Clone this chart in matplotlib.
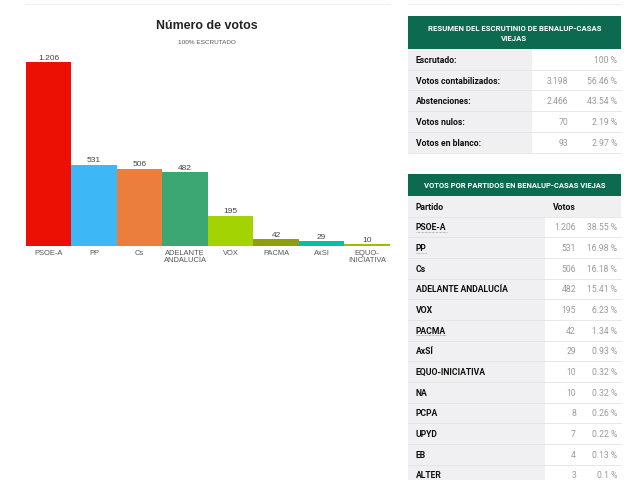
import matplotlib
matplotlib.use("Agg")
import matplotlib.pyplot as plt
from matplotlib.patches import Rectangle

# Data
parties = ["PSOE-A", "PP", "Cs", "ADELANTE ANDALUCÍA", "VOX", "PACMA", "AxSÍ",
           "EQUO-INICIATIVA", "NA", "PCPA", "UPYD", "EB", "ALTER"]
votes = [1206, 531, 506, 482, 195, 42, 29, 10, 10, 8, 7, 4, 3]
vote_pcts = ["38.55 %", "16.98 %", "16.18 %", "15.41 %", "6.23 %", "1.34 %", "0.93 %",
             "0.32 %", "0.32 %", "0.26 %", "0.22 %", "0.13 %", "0.1 %"]

chart_labels = ["PSOE-A", "PP", "Cs", "ADELANTE\nANDALUCÍA", "VOX", "PACMA", "AxSI",
                "EQUO-\nINICIATIVA"]
chart_votes = votes[:8]
bar_colors = ["#ec0f04", "#3db7f6", "#ec7e3d", "#3ba873", "#a3d303", "#8f9e0b",
              "#03bfa3", "#a8b800"]

summary_labels = ["Escrutado:", "Votos contabilizados:", "Abstenciones:", "Votos nulos:",
                  "Votos en blanco:"]
summary_counts = ["", "3.198", "2.466", "70", "93"]
summary_pcts = ["100 %", "56.46 %", "43.54 %", "2.19 %", "2.97 %"]

underlined = ["PSOE-A", "PP", "PACMA"]

W, H = 640, 481
fig = plt.figure(figsize=(W / 100, H / 100), dpi=100)
fig.patch.set_facecolor("white")

# page axes in pixel coordinates (y down) for text and tables
page = fig.add_axes([0, 0, 1, 1])
page.set_xlim(0, W)
page.set_ylim(H, 0)
page.axis("off")

green = "#0b6a4f"
gray_bg = "#f0f0f2"
num_col = "#9a9a9a"
tfont = "Roboto"
fs = 6.2


def fmt(v):
    return f"{v:,}".replace(",", ".")


# ---- bar chart ----
page.plot([25, 390], [5, 5], color="#eeeeee", lw=0.8)
page.text(207, 26, "Número de votos", ha="center", va="center", fontsize=8.9,
          fontweight="bold", family="Liberation Sans", color="#222222")
page.text(207, 43, "100% ESCRUTADO", ha="center", va="center", fontsize=4.6,
          family="Liberation Sans", color="#555555")

x0, x1, base, top = 25.7, 390, 246.7, 50
ax = fig.add_axes([x0 / W, (H - base) / H, (x1 - x0) / W, (base - top) / H])
pos = range(len(chart_votes))
ax.bar(pos, chart_votes, width=1.0, color=bar_colors, align="center")
ax.set_xlim(-0.5, len(chart_votes) - 0.5)
ax.set_ylim(0, chart_votes[0] * (base - top) / (base - 63.3))
for i, v in enumerate(chart_votes):
    ax.annotate(fmt(v), (i, v), xytext=(0, 1.2), textcoords="offset points",
                ha="center", va="bottom", fontsize=6, family="Liberation Sans",
                color="#444444")
ax.set_xticks(list(pos))
ax.set_xticklabels(chart_labels, fontsize=5.4, family="Liberation Sans",
                   color="#555555", linespacing=0.9)
ax.tick_params(axis="x", length=0, pad=2.5)
ax.set_yticks([])
for s in ax.spines.values():
    s.set_visible(False)
ax.patch.set_alpha(0)

# ---- summary table ----
tx0, tx1 = 408, 621
page.plot([tx0, tx1], [5, 5], color="#eeeeee", lw=0.8)
page.add_patch(Rectangle((tx0, 17), tx1 - tx0, 33, color=green, lw=0))
page.text((tx0 + tx1) / 2, 33.5, "RESUMEN DEL ESCRUTINIO DE BENALUP-CASAS\nVIEJAS",
          ha="center", va="center", fontsize=5.6, fontweight="bold", color="white",
          family=tfont, linespacing=1.5)
rh = 20.7
for i, lab in enumerate(summary_labels):
    y = 50 + i * rh
    page.add_patch(Rectangle((tx0, y), 532 - tx0, rh, color=gray_bg, lw=0))
    page.plot([tx0, tx1], [y + rh, y + rh], color="#e4e4e6", lw=0.6)
    page.text(416, y + rh / 2, lab, ha="left", va="center", fontsize=fs,
              fontweight="bold", color="#111111", family=tfont)
    page.text(568, y + rh / 2, summary_counts[i], ha="right", va="center",
              fontsize=fs, color=num_col, family=tfont)
    page.text(617, y + rh / 2, summary_pcts[i], ha="right", va="center",
              fontsize=fs, color=num_col, family=tfont)

# ---- party table ----
page.add_patch(Rectangle((tx0, 175), tx1 - tx0, 22, color=green, lw=0))
page.text((tx0 + tx1) / 2, 186, "VOTOS POR PARTIDOS EN BENALUP-CASAS VIEJAS",
          ha="center", va="center", fontsize=5.5, fontweight="bold", color="white",
          family=tfont)
page.add_patch(Rectangle((tx0, 197), tx1 - tx0, 20.5, color=gray_bg, lw=0))
page.text(416, 207.5, "Partido", ha="left", va="center", fontsize=fs,
          fontweight="bold", color="#111111", family=tfont)
page.text(553, 207.5, "Votos", ha="left", va="center", fontsize=fs,
          fontweight="bold", color="#111111", family=tfont)
rh2 = 20.67
name_texts = []
for i, p in enumerate(parties):
    y = 217.5 + i * rh2
    page.add_patch(Rectangle((tx0, y), 545 - tx0, rh2, color=gray_bg, lw=0))
    page.plot([tx0, tx1], [y, y], color="#e4e4e6", lw=0.6)
    t = page.text(416, y + rh2 / 2, p, ha="left", va="center", fontsize=fs,
                  fontweight="bold", color="#111111", family=tfont)
    name_texts.append((p, t, y))
    page.text(576, y + rh2 / 2, fmt(votes[i]), ha="right", va="center",
              fontsize=fs, color=num_col, family=tfont)
    page.text(617, y + rh2 / 2, vote_pcts[i], ha="right", va="center",
              fontsize=fs, color=num_col, family=tfont)

# dotted underline for the linked party names
fig.canvas.draw()
inv = page.transData.inverted()
for p, t, y in name_texts:
    if p in underlined:
        bb = t.get_window_extent()
        xa = inv.transform((bb.x0, bb.y0))[0]
        xb = inv.transform((bb.x1, bb.y0))[0]
        yy = y + rh2 / 2 + 5
        page.plot([xa, xb], [yy, yy], color="#888888", lw=0.5, ls=(0, (1, 1)))

fig.savefig("out.png", dpi=100)
